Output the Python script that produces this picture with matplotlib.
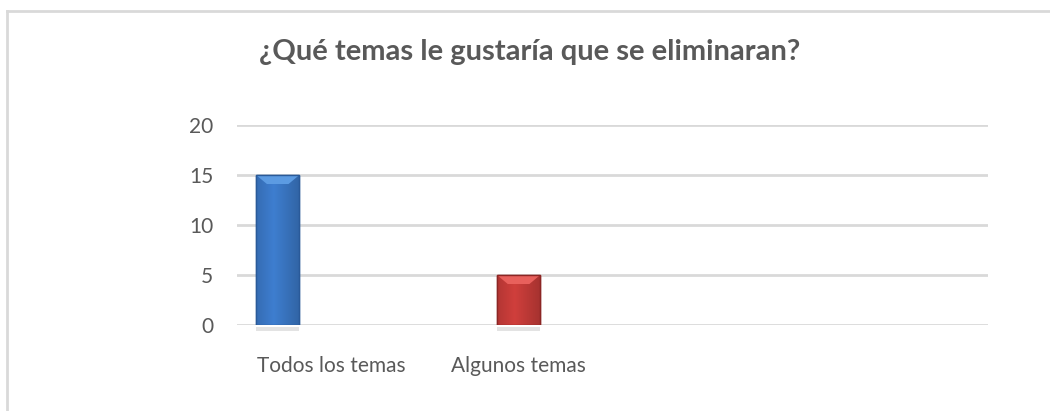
import numpy as np
import matplotlib
matplotlib.use("Agg")
import matplotlib.pyplot as plt
from matplotlib.patches import Polygon, Rectangle

# data
title = "¿Qué temas le gustaría que se eliminaran?"
categories = ["Todos los temas", "Algunos temas", "", ""]
series_names = ["Serie 1", "Serie 2"]
series_values = [
    [15, 0, 0, 0],   # blue
    [0, 5, 0, 0],    # red
]
series_colors = ["#3b78c6", "#c63c39"]
series_edges = ["#2a5a99", "#8c2624"]
series_light = ["#5c9be2", "#e8605c"]
y_ticks = [0, 5, 10, 15, 20]

# clustered layout (3 slots per category, only first two series used)
bar_w = 0.23
offsets = [-0.283, 0.0]

plt.rcParams['font.family'] = ['Lato', 'DejaVu Sans']

fig = plt.figure(figsize=(10.5, 4.11), dpi=100)
ax = fig.add_axes([0.2257, 0.2092, 0.7152, 0.4866])

x = np.arange(len(categories))
ax.set_xlim(-0.5, len(categories) - 0.5)
ax.set_ylim(0, 20)

for i, vals in enumerate(series_values):
    for xi, v in zip(x, vals):
        if v <= 0:
            continue
        left = xi + offsets[i] - bar_w / 2
        right = left + bar_w
        # soft shadow under bar
        ax.add_patch(Rectangle((left, -0.55), bar_w, 0.35, facecolor="#c8c8c8",
                               alpha=0.5, edgecolor="none", clip_on=False, zorder=2))
        bars = ax.bar(xi + offsets[i], v, width=bar_w, color=series_colors[i],
                      edgecolor=series_edges[i], linewidth=1.0, zorder=3)
        # light horizontal shading clipped to the bar
        grad = np.linspace(0, 1, 64)
        shade = 1.05 - 0.18 * np.abs(grad - 0.4) * 2
        img = np.ones((2, 64, 4))
        base = np.array(matplotlib.colors.to_rgb(series_colors[i]))
        img[..., :3] = np.clip(base[None, None, :] * shade[None, :, None], 0, 1)
        im = ax.imshow(img, extent=(left, right, 0, v), aspect='auto', zorder=3.5,
                       interpolation='bicubic')
        im.set_clip_path(bars[0])
        # top bevel
        bev = 0.9
        ax.add_patch(Polygon([(left, v), (right, v), (right - bar_w * 0.25, v - bev),
                              (left + bar_w * 0.25, v - bev)], closed=True,
                             facecolor=series_light[i], edgecolor="none", zorder=4))
        ax.add_patch(Rectangle((left, 0), bar_w, v, facecolor="none",
                               edgecolor=series_edges[i], linewidth=1.0, zorder=4.5))

ax.set_xticks(x[:2])
ax.set_xticklabels(categories[:2], fontsize=15, color="#595959")
ax.set_yticks(y_ticks)
ax.set_yticklabels([str(t) for t in y_ticks], fontsize=15, color="#595959")
ax.tick_params(axis='both', length=0)
ax.tick_params(axis='y', pad=17)
ax.tick_params(axis='x', pad=22)

ax.yaxis.grid(True, color="#d9d9d9", linewidth=2)
ax.set_axisbelow(True)
for s in ax.spines.values():
    s.set_visible(False)

fig.text(0.504, 0.873, title, ha="center", va="center", fontsize=21,
         fontweight="bold", color="#595959")

# chart frame
fig.add_artist(plt.Line2D([7 / 1050, 7 / 1050], [0, 1 - 11 / 411], color="#d9d9d9",
                          linewidth=2, transform=fig.transFigure))
fig.add_artist(plt.Line2D([7 / 1050, 1], [1 - 11 / 411, 1 - 11 / 411], color="#d9d9d9",
                          linewidth=2, transform=fig.transFigure))

fig.savefig("out.png", dpi=100)
